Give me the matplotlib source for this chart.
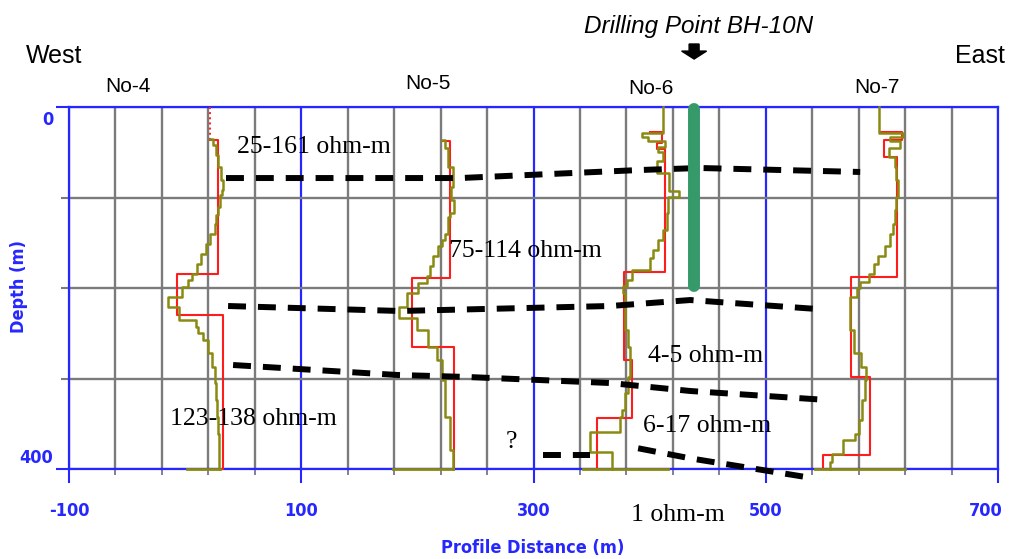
import matplotlib
matplotlib.use('Agg')
import matplotlib.pyplot as plt
from matplotlib import font_manager as fm
from matplotlib.patches import FancyArrow
from matplotlib.transforms import ScaledTranslation

# ------------------------------------------------------------------ data
x_major = [-100, 100, 300, 500, 700]
x_minor = [-60, -20, 20, 60, 140, 180, 220, 260, 340, 380, 420, 460,
           540, 580, 620, 660]
y_major = [0, 400]
y_minor = [100, 200, 300]

stations = ['No-4', 'No-5', 'No-6', 'No-7']
station_label_x = [-49, 209, 401, 596]
station_label_d = [-16.6, -19.9, -14.4, -15.5]

# red = layered model (start x at first depth, layer boundaries, layer values)
red4_start, red4_depth, red4_x = 21.4, [36, 184, 230, 400], [28.6, -6.7, 32.9]
red5_start, red5_depth, red5_x = 222.4, [38, 189, 265, 400], [228.2, 195.2, 231.6]
red6_start = 400.4
red6_depth = [28, 40, 46, 182, 280, 344, 400]
red6_x = [410.5, 406, 413.3, 378.3, 385.2, 355]
red7_start = 598.5
red7_depth = [28, 37, 55, 187.5, 298, 384.5, 400]
red7_x = [617.2, 601.4, 612.9, 573.6, 589.9, 549.7]

# olive = smooth (many-layer) model
olive4_start = 21.4
olive4_depth = [35, 42, 53, 66, 81, 92, 97, 110, 119, 129, 140, 151, 162, 173,
                184, 191, 199, 210, 221, 235, 243, 250, 258, 272, 287, 305,
                324, 342, 361, 400]
olive4_x = [24, 27, 28.6, 30.6, 33, 31.5, 30, 28, 26.7, 25.3, 21.4, 17.7, 13.7,
            10, 5.7, 2.8, -3, -15, -5.2, 9.1, 10.8, 15.7, 20, 23.5, 25.3, 26.7,
            27.6, 28.6, 29.2]
olive5_start = 221
olive5_depth = [36.5, 45.7, 66, 88, 103, 117.5, 121, 140, 147, 154, 165, 176,
                187, 195, 206, 221, 233.5, 246, 265, 280, 302, 342, 379, 400]
olive5_x = [223.9, 226.7, 231, 229, 231.6, 228.2, 226.7, 223.9, 221, 218.1,
            213.8, 211, 208.1, 200.9, 190.9, 184.5, 199.5, 209.5, 216.7, 221,
            223.9, 228.2, 230.4]
olive6_start = None
olive6_depth = [0, 29, 33, 38, 44, 50, 60, 73, 93, 99, 117, 136, 147, 158, 167,
                180, 191, 198, 206, 246, 265, 298, 316, 335, 342, 359, 381, 400]
olive6_x = [411.9, 393.3, 399, 413.3, 407.6, 411.9, 406, 416.5, 425.7, 416.2,
            414.8, 411.9, 407.6, 403.3, 400.4, 384.6, 380.3, 377.4, 378.8,
            381.7, 383.2, 381.7, 378.8, 376, 374.6, 348.8, 367.4]
olive7_start = None
olive7_depth = [0, 29, 33, 38, 45, 55, 66, 81, 99, 114, 129, 140, 154, 165, 173,
                184, 193, 200, 210, 224, 246, 272, 287, 302, 324, 346, 361, 368,
                383, 392, 400]
olive7_x = [597.1, 618.6, 607, 616, 606, 611.5, 612.4, 613.5, 612.4, 611.5,
            609.5, 606.7, 602.9, 597, 592.9, 588.6, 581.4, 578.5, 572.2, 572.8,
            575.6, 582, 586.6, 585.7, 582.8, 580, 577.1, 566.5, 557, 555]
olive_tail_lo = [1.4, 179, 342.7, 542.5]
olive_tail_hi = [30, 230.4, 415.9, 620]

# interpreted boundaries (dashed)
dash1_x = [35.2, 236.8, 391.8, 443.5, 581.3]
dash1_d = [78.5, 78.5, 69.6, 67.4, 71.8]
dash2_x = [37, 185.1, 366, 434.9, 544.3]
dash2_d = [219.9, 225.4, 219.9, 213.3, 223.2]
dash3_x = [41.3, 182.5, 242.8, 366, 434.9, 553.7]
dash3_d = [285.1, 296.1, 298.3, 305, 313.8, 323.8]
dash4_x = [308.3, 348.8]
dash4_d = [384, 384]
dash5_x = [390.1, 434.9, 540.0]
dash5_d = [377.1, 388.2, 410]

# drilling point
bh_x = 438.3
bh_top, bh_bottom = 2.5, 197.4

# layer annotations
ann_text = ['25-161 ohm-m', '75-114 ohm-m', '4-5 ohm-m', '123-138 ohm-m',
            '6-17 ohm-m', '?', '1 ohm-m']
ann_x = [44.7, 227.3, 399, -13, 394.1, 280.7, 384]
ann_d = [50.8, 165.4, 281.4, 351.4, 358.8, 376.8, 457.5]
ann_ha = ['left', 'left', 'left', 'left', 'left', 'center', 'left']

# ------------------------------------------------------------------ style
W, H = 1009, 559
BLUE = '#2626ff'
GRAY = '#7b7b7b'
RED = '#ff1c1c'
OLIVE = '#8a8a12'
GREEN = '#35996a'

_names = {f.name for f in fm.fontManager.ttflist}
SANS = 'Liberation Sans' if 'Liberation Sans' in _names else 'DejaVu Sans'
SERIF = 'Liberation Serif' if 'Liberation Serif' in _names else 'DejaVu Serif'


def _wnum(w):
    if isinstance(w, str):
        return fm.weight_dict.get(w, 400)
    return w


_cond = [f for f in fm.fontManager.ttflist
         if str(f.stretch) in ('condensed', 'semi-condensed', 'extra-condensed',
                               'ultra-condensed', '500', '600', '700', '400')
         and str(f.stretch) not in ('normal',)
         and f.style == 'normal' and _wnum(f.weight) >= 600]
_pref = ['Liberation Sans Narrow', 'DejaVu Sans', 'Noto Sans', 'Open Sans',
         'Roboto', 'Lato', 'Inter']
_cond.sort(key=lambda f: _pref.index(f.name) if f.name in _pref else 99)
_cond = [f for f in _cond if f.name in _pref]


def tick_fp(size):
    if _cond:
        return fm.FontProperties(fname=_cond[0].fname, size=size)
    return fm.FontProperties(family=SANS, weight='bold', size=size - 2)


fig = plt.figure(figsize=(W / 100, H / 100), dpi=100)
ax = fig.add_axes([69 / W, 1 - 469 / H, 929 / W, 362 / H])
ax.set_xlim(-100, 700)
ax.set_ylim(400, 0)

ax.set_xticks(x_major)
ax.set_xticks(x_minor, minor=True)
ax.set_yticks(y_major)
ax.set_yticks(y_minor, minor=True)
ax.set_xticklabels([str(v) for v in x_major])
ax.set_yticklabels([str(v) for v in y_major])

ax.set_axisbelow(True)
ax.grid(which='major', color=BLUE, lw=1.6)
ax.grid(which='minor', color=GRAY, lw=1.7)
for s in ax.spines.values():
    s.set_color(BLUE)
    s.set_linewidth(1.6)

ax.tick_params(axis='x', which='major', direction='out', length=10, width=1.5,
               color=BLUE, pad=14, labelcolor=BLUE)
ax.tick_params(axis='x', which='minor', direction='out', length=4.5, width=1.2,
               color='#6a6a90')
ax.tick_params(axis='y', which='major', direction='out', length=9.5, width=1.5,
               color=BLUE, pad=2, labelcolor=BLUE)
ax.tick_params(axis='y', which='minor', direction='out', length=6, width=1.5,
               color=GRAY)
for lab in ax.get_xticklabels() + ax.get_yticklabels():
    lab.set_fontproperties(tick_fp(13))

# last x label sits flush with the right edge, y labels tucked inside
last = ax.xaxis.get_major_ticks()[-1].label1
last.set_horizontalalignment('right')
last.set_transform(last.get_transform() + ScaledTranslation(5 / 100, 0, fig.dpi_scale_trans))
yt = ax.yaxis.get_major_ticks()
yt[0].label1.set_verticalalignment('top')
yt[0].label1.set_transform(yt[0].label1.get_transform()
                           + ScaledTranslation(0, -4 / 100, fig.dpi_scale_trans))
yt[1].label1.set_verticalalignment('bottom')
yt[1].label1.set_transform(yt[1].label1.get_transform()
                           + ScaledTranslation(0, 2 / 100, fig.dpi_scale_trans))

ax.set_xlabel('Profile Distance (m)', color=BLUE, fontproperties=tick_fp(13))
ax.xaxis.set_label_coords((533 - 69) / 929, (469 - 548) / 362)
ax.xaxis.label.set_verticalalignment('center')
ax.set_ylabel('Depth (m)', color=BLUE, fontproperties=tick_fp(13))
ax.yaxis.set_label_coords((19 - 69) / 929, (469 - 287) / 362)
ax.yaxis.label.set_verticalalignment('center')


def step_path(depth, xs, start=None):
    px, py = [], []
    if start is not None:
        px.append(start)
        py.append(depth[0])
    for i, v in enumerate(xs):
        px += [v, v]
        py += [depth[i], depth[i + 1]]
    return px, py


# red layered models
ax.plot([red4_start, red4_start], [0, red4_depth[0]], color=RED, lw=1.4, ls=':',
        zorder=3)
for st, dep, xs in [(red4_start, red4_depth, red4_x), (red5_start, red5_depth, red5_x),
                    (red6_start, red6_depth, red6_x), (red7_start, red7_depth, red7_x)]:
    px, py = step_path(dep, xs, st)
    ax.plot(px, py, color=RED, lw=1.5, zorder=3, clip_on=False)

# olive smooth models
olives = [(olive4_start, olive4_depth, olive4_x), (olive5_start, olive5_depth, olive5_x),
          (olive6_start, olive6_depth, olive6_x), (olive7_start, olive7_depth, olive7_x)]
for (st, dep, xs), lo, hi in zip(olives, olive_tail_lo, olive_tail_hi):
    px, py = step_path(dep, xs, st)
    ax.plot(px, py, color=OLIVE, lw=1.8, zorder=4, clip_on=False)
    ax.plot([lo, hi], [400, 400], color=OLIVE, lw=2.0, zorder=4, clip_on=False)

# dashed boundaries
for xs, ds in [(dash1_x, dash1_d), (dash2_x, dash2_d), (dash3_x, dash3_d),
               (dash4_x, dash4_d), (dash5_x, dash5_d)]:
    ax.plot(xs, ds, color='black', lw=4.3, dashes=(3.0, 2.0),
            dash_capstyle='butt', zorder=5, clip_on=False)

# drilling point bar and arrow
ax.plot([bh_x, bh_x], [bh_top, bh_bottom], color=GREEN, lw=8.6,
        solid_capstyle='round', zorder=6, clip_on=False)
arrow = FancyArrow(bh_x, -69.6, 0, 16.6, width=8.6, head_width=21.5,
                   head_length=8.8, length_includes_head=True, color='black',
                   clip_on=False, zorder=6)
ax.add_patch(arrow)

# annotations
for t, x, d, ha in zip(ann_text, ann_x, ann_d, ann_ha):
    ax.text(x, d, t, family=SERIF, size=18.5, ha=ha, va='baseline',
            color='black', zorder=7, clip_on=False)

for name, x, d in zip(stations, station_label_x, station_label_d):
    ax.text(x, d, name, family=SANS, size=15, ha='center', va='baseline',
            color='black', clip_on=False)

fig.text(54 / W, 1 - 63 / H, 'West', family=SANS, size=18, ha='center', va='baseline')
fig.text(980 / W, 1 - 63 / H, 'East', family=SANS, size=18, ha='center', va='baseline')
fig.text(699 / W, 1 - 33 / H, 'Drilling Point BH-10N', family=SANS, size=17.5,
         style='italic', ha='center', va='baseline')

fig.savefig('out.png', dpi=100)
